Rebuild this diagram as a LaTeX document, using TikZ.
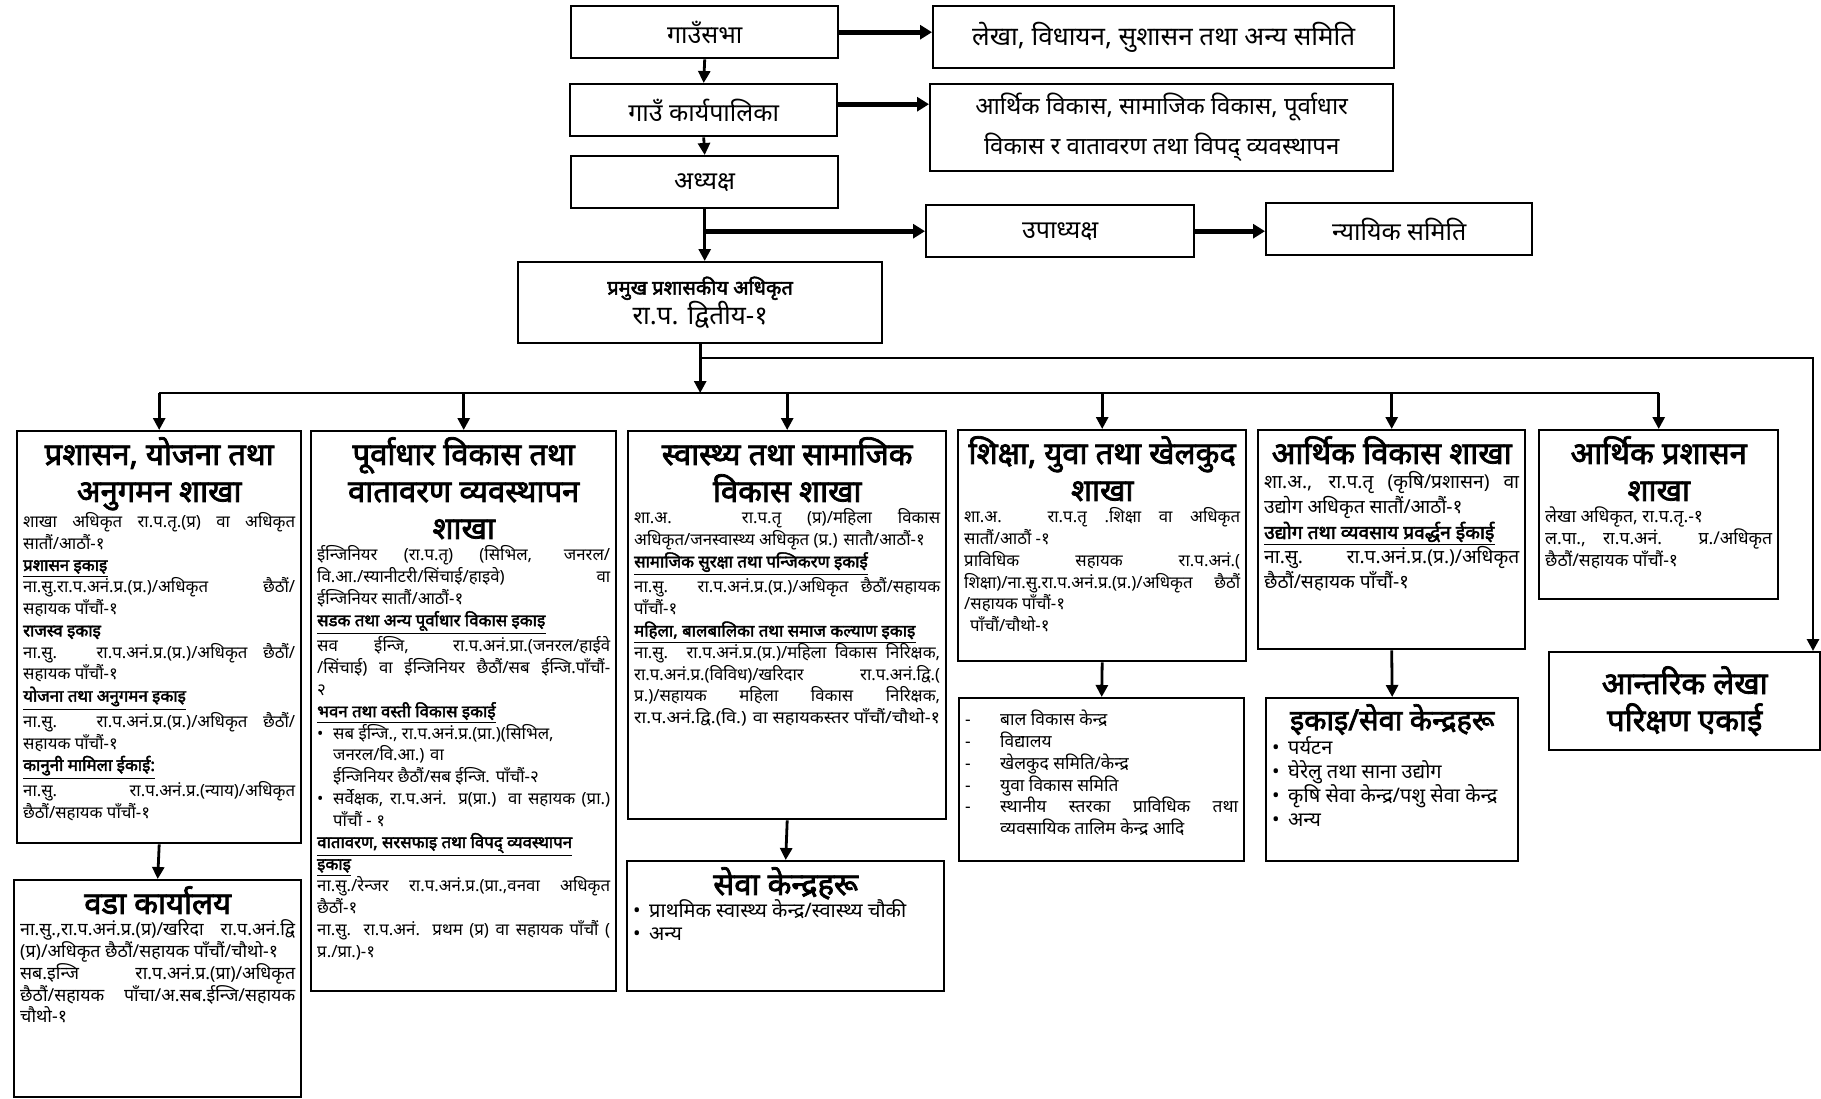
\documentclass[tikz,border=0pt]{standalone}
\usepackage{fontspec}
\usepackage{graphicx}
\setmainfont{Noto Sans}[Script=Devanagari, BoldFont={Noto Sans}, BoldFeatures={FakeBold=2.5}]
\usetikzlibrary{arrows.meta}

\newcommand{\headfont}{\fontsize{15.5}{18.5}\selectfont\bfseries}
\newcommand{\bodyfont}{\fontsize{8.4}{10.9}\selectfont\spaceskip=0.26em plus 0.6em minus 0.1em\relax}
\newcommand{\topfont}{\fontsize{12.5}{20}\selectfont}
\newcommand{\panel}[3]{\parbox[t][#2][t]{#1}{#3}}
\newcommand{\unitname}[1]{\underline{\textbf{#1}}}
\newcommand{\squeeze}[1]{\resizebox{\linewidth}{\height}{#1}}
\newcommand{\bul}{\makebox[8pt][l]{•}}
\newcommand{\listdash}{\makebox[17.5pt][l]{-}}

\begin{document}
\begin{tikzpicture}[
    x=0.5pt, y=-0.5pt,
    top/.style={draw, line width=1.2pt, anchor=north west, align=center, font=\topfont, inner sep=2pt},
    branch/.style={draw, line width=1.2pt, anchor=north west, inner sep=3pt},
    link/.style={line width=1.4pt, -{Triangle[length=6pt, width=6pt]}},
    tlink/.style={line width=2.6pt, -{Triangle[length=6pt, width=7pt]}},
    bar/.style={line width=1.4pt},
]
\useasboundingbox (0,0) rectangle (1821,1098);

% top level
\node[top, minimum width=133.5pt, minimum height=26pt] (sabha) at (570,5) {गाउँसभा};
\node[top, minimum width=230.5pt, minimum height=31pt, font=\fontsize{13}{20}\selectfont] (lekha) at (932,5) {लेखा, विधायन, सुशासन तथा अन्य समिति};
\node[top, minimum width=133.5pt, minimum height=26pt] (karya) at (569,83) {गाउँ कार्यपालिका};
\node[top, minimum width=231.5pt, minimum height=43.5pt, font=\fontsize{12}{20}\selectfont] (samiti) at (929,83) {आर्थिक विकास, सामाजिक विकास, पूर्वाधार\\विकास र वातावरण तथा विपद् व्यवस्थापन};
\node[top, minimum width=133.5pt, minimum height=26pt] (adhyaksha) at (570,155) {अध्यक्ष};
\node[top, minimum width=134pt, minimum height=26pt] (upa) at (925,204) {उपाध्यक्ष};
\node[top, minimum width=133pt, minimum height=26pt] (nyayik) at (1265,202) {न्यायिक समिति};
\node[top, minimum width=182pt, minimum height=40.5pt, font=\fontsize{10}{15}\selectfont] (pramukh) at (517,261) {\textbf{प्रमुख प्रशासकीय अधिकृत}\\{\fontsize{13}{15}\selectfont रा.प. द्वितीय-१}};

% branches
\node[branch] (b1) at (16,430) {\panel{136pt}{200pt}{%
{\centering\headfont प्रशासन, योजना तथा\\अनुगमन शाखा\par}
\bodyfont
शाखा अधिकृत रा.प.तृ.(प्र) वा अधिकृत\linebreak
सातौं/आठौं-१\\
\unitname{प्रशासन इकाइ}\\
ना.सु.रा.प.अनं.प्र.(प्र.)/अधिकृत छैठौं/\linebreak
सहायक पाँचौं-१\\
\textbf{राजस्व इकाइ}\\
ना.सु. रा.प.अनं.प्र.(प्र.)/अधिकृत छैठौं/\linebreak
सहायक पाँचौं-१\\
\unitname{योजना तथा अनुगमन इकाइ}\\
ना.सु. रा.प.अनं.प्र.(प्र.)/अधिकृत छैठौं/\linebreak
सहायक पाँचौं-१\\
\unitname{कानुनी मामिला ईकाई:}\\
ना.सु. रा.प.अनं.प्र.(न्याय)/अधिकृत\linebreak
छैठौं/सहायक पाँचौं-१}};

\node[branch] (b2) at (310,430) {\panel{146.5pt}{274pt}{%
{\centering\headfont पूर्वाधार विकास तथा\\वातावरण व्यवस्थापन\\शाखा\par}
\bodyfont
ईन्जिनियर (रा.प.तृ) (सिभिल, जनरल/\linebreak
वि.आ./स्यानीटरी/सिंचाई/हाइवे) वा\linebreak
ईन्जिनियर सातौं/आठौं-१\\
\unitname{सडक तथा अन्य पूर्वाधार विकास इकाइ}\\
सव ईन्जि, रा.प.अनं.प्रा.(जनरल/हाईवे\linebreak
/सिंचाई) वा ईन्जिनियर छैठौं/सब ईन्जि.पाँचौं-\linebreak
२\\
\unitname{भवन तथा वस्ती विकास इकाई}\\
\bul सब ईन्जि., रा.प.अनं.प्र.(प्रा.)(सिभिल,\\
\hspace*{8pt}जनरल/वि.आ.) वा\\
\hspace*{8pt}ईन्जिनियर छैठौं/सब ईन्जि. पाँचौं-२\\
\bul सर्वेक्षक, रा.प.अनं. प्र(प्रा.) वा सहायक (प्रा.)\linebreak
\hspace*{8pt}पाँचौं - १\\
\unitname{वातावरण, सरसफाइ तथा विपद् व्यवस्थापन}\\
\unitname{इकाइ}\\
ना.सु./रेन्जर रा.प.अनं.प्र.(प्रा.,वनवा अधिकृत\linebreak
छैठौं-१\\
ना.सु. रा.प.अनं. प्रथम (प्र) वा सहायक पाँचौं (\linebreak
प्र./प्रा.)-१}};

\node[branch] (b3) at (627,430) {\panel{153pt}{188pt}{%
{\centering\headfont स्वास्थ्य तथा सामाजिक\\विकास शाखा\par}
\bodyfont
शा.अ. रा.प.तृ (प्र)/महिला विकास\linebreak
अधिकृत/जनस्वास्थ्य अधिकृत (प्र.) सातौ/आठौं-१\\
\unitname{सामाजिक सुरक्षा तथा पन्जिकरण इकाई}\\
ना.सु. रा.प.अनं.प्र.(प्र.)/अधिकृत छैठौं/सहायक\linebreak
पाँचौं-१\\
\unitname{महिला, बालबालिका तथा समाज कल्याण इकाइ}\\
ना.सु. रा.प.अनं.प्र.(प्र.)/महिला विकास निरिक्षक,\linebreak
रा.प.अनं.प्र.(विविध)/खरिदार रा.प.अनं.द्वि.(\linebreak
प्र.)/सहायक महिला विकास निरिक्षक,\linebreak
\squeeze{रा.प.अनं.द्वि.(वि.) वा सहायकस्तर पाँचौं/चौथो-१}}};

\node[branch] (b4) at (957,429) {\panel{138pt}{109.5pt}{%
{\centering\headfont शिक्षा, युवा तथा खेलकुद\\शाखा\par}
\bodyfont
शा.अ. रा.प.तृ .शिक्षा वा अधिकृत\linebreak
सातौं/आठौं -१\\
प्राविधिक सहायक रा.प.अनं.(\linebreak
शिक्षा)/ना.सु.रा.प.अनं.प्र.(प्र.)/अधिकृत छैठौं\linebreak
/सहायक पाँचौं-१\\
\hspace*{3pt}पाँचौं/चौथो-१}};

\node[branch] (b5) at (1257,429) {\panel{127.5pt}{103.5pt}{%
{\centering\headfont आर्थिक विकास शाखा\par}
\fontsize{9.6}{12.5}\selectfont
शा.अ., रा.प.तृ (कृषि/प्रशासन) वा\linebreak
उद्योग अधिकृत सातौं/आठौं-१\\
\unitname{उद्योग तथा व्यवसाय प्रवर्द्धन ईकाई}\\
ना.सु. रा.प.अनं.प्र.(प्र.)/अधिकृत\linebreak
छैठौं/सहायक पाँचौं-१}};

\node[branch] (b6) at (1538,429) {\panel{113.5pt}{78.5pt}{%
{\centering\headfont आर्थिक प्रशासन\\शाखा\par}
\fontsize{8.8}{10.9}\selectfont
लेखा अधिकृत, रा.प.तृ.-१\\
ल.पा., रा.प.अनं. प्र./अधिकृत\linebreak
छैठौं/सहायक पाँचौं-१}};

% lower level
\node[branch] (ward) at (13,879) {\panel{137.5pt}{102.5pt}{%
{\centering\headfont वडा कार्यालय\par}
\fontsize{8.9}{10.9}\selectfont
ना.सु.,रा.प.अनं.प्र.(प्र)/खरिदा रा.प.अनं.द्वि\linebreak
(प्र)/अधिकृत छैठौं/सहायक पाँचौं/चौथो-१\\
सब.इन्जि रा.प.अनं.प्र.(प्रा)/अधिकृत\linebreak
छैठौं/सहायक पाँचा/अ.सब.ईन्जि/सहायक\linebreak
चौथो-१}};

\node[branch] (seva) at (626,860) {\panel{152.5pt}{59pt}{%
{\centering\headfont सेवा केन्द्रहरू\par}
\fontsize{10}{11.5}\selectfont
\bul प्राथमिक स्वास्थ्य केन्द्र/स्वास्थ्य चौकी\\
\bul अन्य}};

\node[branch] (kendra) at (958,697) {\panel{136.5pt}{75.5pt}{%
\vspace*{3pt}\fontsize{8.7}{10.9}\selectfont
\listdash बाल विकास केन्द्र\\
\listdash विद्यालय\\
\listdash खेलकुद समिति/केन्द्र\\
\listdash युवा विकास समिति\\
\listdash स्थानीय स्तरका प्राविधिक तथा\linebreak
\hspace*{17.5pt}व्यवसायिक तालिम केन्द्र आदि}};

\node[branch] (ekai) at (1265,697) {\panel{120pt}{75.5pt}{%
{\centering\fontsize{14.5}{18.5}\selectfont\bfseries इकाइ/सेवा केन्द्रहरू\par}
\fontsize{10}{12}\selectfont
\bul पर्यटन\\
\bul घेरेलु तथा साना उद्योग\\
\bul कृषि सेवा केन्द्र/पशु सेवा केन्द्र\\
\bul अन्य}};

\node[branch, minimum width=135.5pt, minimum height=49pt, align=center, font=\headfont] (audit) at (1548,651) {आन्तरिक लेखा\\परिक्षण एकाई};

% connectors, top
\coordinate (kout) at ([yshift=3pt]karya.east);
\draw[tlink] (sabha.east) -- (lekha.west |- sabha.east);
\draw[link] (sabha.south) -- (karya.north);
\draw[tlink] (kout) -- (samiti.west |- kout);
\draw[link] (karya.south) -- (adhyaksha.north);
\draw[link] (adhyaksha.south) -- (adhyaksha.south |- pramukh.north);
\draw[tlink] (adhyaksha.south |- upa.west) -- (upa.west);
\draw[tlink] (upa.east) -- (nyayik.west |- upa.east);

% connectors, branches
\coordinate (bar) at (701,393);
\coordinate (tap) at (701,358);
\coordinate (auditin) at (1813,651);
\draw[link] (pramukh.south) -- (pramukh.south |- bar);
\draw[bar] (b1.north |- bar) -- (b6.north |- bar);
\draw[link] (tap) -| (auditin);
\foreach \b in {b1,b2,b3,b4,b5,b6}
    \draw[link] (\b.north |- bar) -- (\b.north);

% connectors, lower
\draw[link] (b1.south) -- (ward.north);
\draw[link] (b3.south) -- (seva.north);
\draw[link] (b4.south) -- (kendra.north);
\draw[link] (b5.south) -- (ekai.north);

\end{tikzpicture}
\end{document}
